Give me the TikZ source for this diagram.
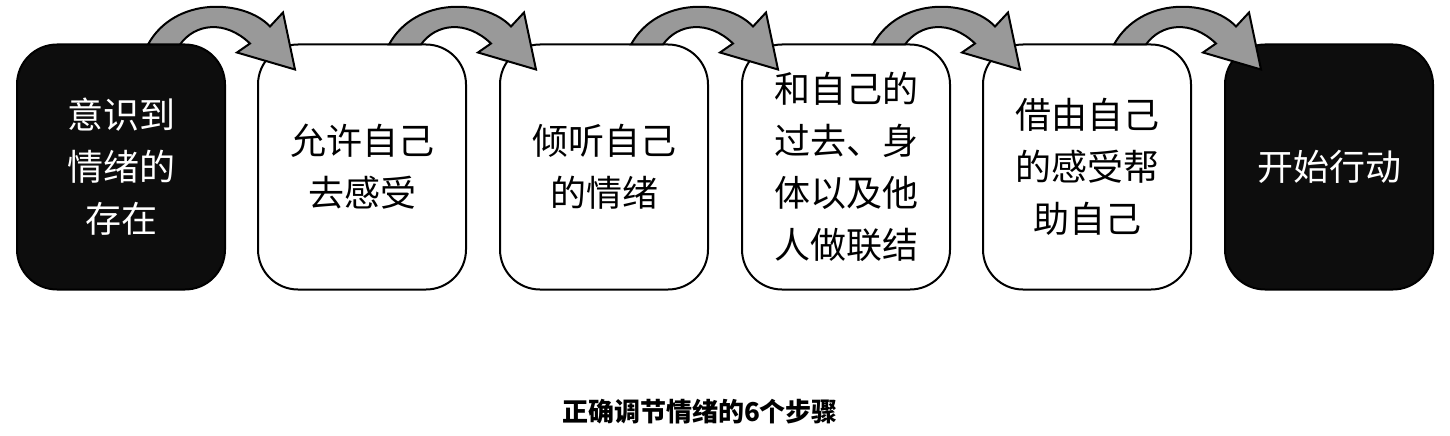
\documentclass[tikz,border=0pt]{standalone}
\usepackage{fontspec}
\newfontfamily\cjk{Noto Sans CJK SC}
\usetikzlibrary{positioning}
\tikzset{
  stepbox/.style={draw=black, line width=2pt, rounded corners=40pt, minimum width=208pt, minimum height=245pt,
    align=center, font=\cjk\fontsize{36}{52}\selectfont},
  darkbox/.style={stepbox, fill=black!95, text=white},
  lightbox/.style={stepbox, fill=white},
  hoparrow/.style={draw=black, line width=2pt, fill=black!40, line join=miter}
}
\begin{document}
\begin{tikzpicture}[x=1pt,y=-1pt]
\useasboundingbox (0,0) rectangle (1450,436);
% steps
\node[darkbox] (s1) at (121,167) {意识到\\情绪的\\存在};
\node[lightbox] (s2) at (362,167) {允许自己\\去感受};
\node[lightbox] (s3) at (604,167) {倾听自己\\的情绪};
\node[lightbox] (s4) at (846,167) {和自己的\\过去、身\\体以及他\\人做联结};
\node[lightbox] (s5) at (1087,167) {借由自己\\的感受帮\\助自己};
\node[darkbox] (s6) at (1329,167) {开始行动};
% curved arrows between steps
\foreach \a in {s1,s2,s3,s4,s5}{
  \begin{scope}[shift={(\a.north)}]
    \draw[hoparrow] (27,1) .. controls (54,-48) and (124,-44) .. (149,-17)
      -- (162,-31) -- (174,26) -- (116,9) -- (129,0)
      .. controls (104,-24) and (74,-20) .. (59,1) -- cycle;
  \end{scope}
}
% caption
\node[font=\cjk\bfseries\fontsize{26}{30}\selectfont] (title) at (700,412) {正确调节情绪的6个步骤};
\end{tikzpicture}
\end{document}
